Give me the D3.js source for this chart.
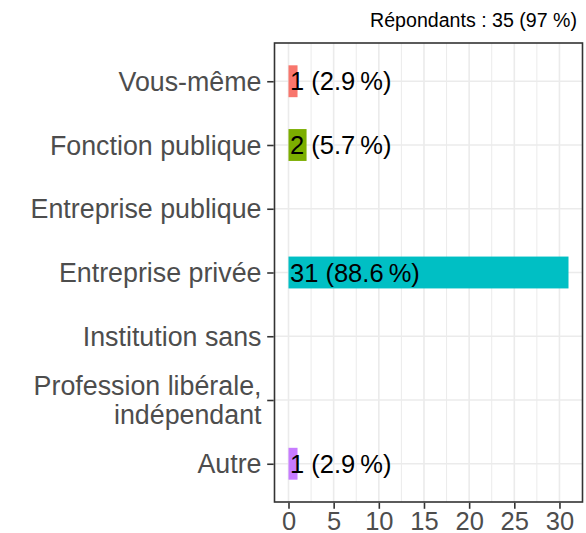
<!DOCTYPE html>
<html>
<head>
<meta charset="utf-8">
<script src="https://cdn.jsdelivr.net/npm/d3@7"></script>
<style>
  body { margin: 0; background: #fff; }
  svg { display: block; font-family: "Liberation Sans", Arial, sans-serif; }
</style>
</head>
<body>
<svg id="chart" width="586" height="533"></svg>
<script>
// data
var categories = ["Vous-même", "Fonction publique", "Entreprise publique", "Entreprise privée",
                  "Institution sans", "Profession libérale,\nindépendant", "Autre"];
var counts = [1, 2, 0, 31, 0, 0, 1];
var percents = ["2.9", "5.7", "0", "88.6", "0", "0", "2.9"];
var barColors = ["#F8766D", "#7CAE00", null, "#00BFC4", null, null, "#C77CFF"];
var xTicks = [0, 5, 10, 15, 20, 25, 30];
var xMinor = [2.5, 7.5, 12.5, 17.5, 22.5, 27.5];
var subtitle = "Répondants : 35 (97 %)";

var svg = d3.select("#chart");
var panel = {left: 274.5, right: 582.5, top: 43, bottom: 502};

// ggplot-like expansion: 5% continuous, 0.6 discrete
var xmax = d3.max(counts);
var x = d3.scaleLinear()
    .domain([-0.05 * xmax, xmax * 1.05])
    .range([panel.left, panel.right]);

var y = d3.scalePoint()
    .domain(d3.range(categories.length))
    .range([panel.top, panel.bottom])
    .padding(0.6);
var step = y.step();

var g = svg.append("g");

// grid
g.selectAll("line.minor").data(xMinor)
  .enter().append("line")
    .attr("x1", x).attr("x2", x)
    .attr("y1", panel.top).attr("y2", panel.bottom)
    .attr("stroke", "#EBEBEB").attr("stroke-width", 1);

g.selectAll("line.majx").data(xTicks)
  .enter().append("line")
    .attr("x1", x).attr("x2", x)
    .attr("y1", panel.top).attr("y2", panel.bottom)
    .attr("stroke", "#EBEBEB").attr("stroke-width", 1.6);

g.selectAll("line.majy").data(d3.range(categories.length))
  .enter().append("line")
    .attr("x1", panel.left).attr("x2", panel.right)
    .attr("y1", y).attr("y2", y)
    .attr("stroke", "#EBEBEB").attr("stroke-width", 1.6);

// bars
var rows = categories.map(function(c, i){
  return {i: i, n: counts[i], pct: percents[i], color: barColors[i]};
});
var shown = rows.filter(function(d){ return d.n > 0; });

g.selectAll("rect.bar").data(shown)
  .enter().append("rect")
    .attr("x", x(0))
    .attr("y", function(d){ return y(d.i) - step * 0.25; })
    .attr("width", function(d){ return x(d.n) - x(0); })
    .attr("height", step * 0.5)
    .attr("fill", function(d){ return d.color; });

g.selectAll("text.lab").data(shown)
  .enter().append("text")
    .attr("x", x(0) + 1.5)
    .attr("y", function(d){ return y(d.i); })
    .attr("dy", "0.36em")
    .attr("font-size", 25.5)
    .attr("fill", "#000")
    .text(function(d){ return d.n + " (" + d.pct + "\u2009%)"; });

// panel border
g.append("rect")
    .attr("x", panel.left).attr("y", panel.top)
    .attr("width", panel.right - panel.left)
    .attr("height", panel.bottom - panel.top)
    .attr("fill", "none").attr("stroke", "#333333").attr("stroke-width", 1.6);

// x axis
var xAxis = svg.append("g")
    .attr("transform", "translate(0," + (panel.bottom + 0.8) + ")")
    .call(d3.axisBottom(x).tickValues(xTicks).tickSize(6).tickPadding(3).tickFormat(d3.format("d")));
xAxis.select(".domain").remove();
xAxis.selectAll(".tick line").attr("stroke", "#333333").attr("stroke-width", 1.6);
xAxis.selectAll(".tick text").attr("font-size", 25.5).attr("fill", "#4D4D4D")
    .attr("font-family", "Liberation Sans, Arial, sans-serif");

// y axis
var yAxis = svg.append("g")
    .attr("transform", "translate(" + (panel.left - 0.8) + ",0)")
    .call(d3.axisLeft(y).tickSize(6.5).tickPadding(5).tickFormat(""));
yAxis.select(".domain").remove();
yAxis.selectAll(".tick line").attr("stroke", "#333333").attr("stroke-width", 1.6);

var ylab = svg.append("g").selectAll("text").data(categories)
  .enter().append("text")
    .attr("x", panel.left - 13)
    .attr("y", function(d, i){ return y(i); })
    .attr("text-anchor", "end")
    .attr("font-size", 26.8)
    .attr("fill", "#4D4D4D");
ylab.each(function(d){
  var lines = d.split("\n");
  var sel = d3.select(this);
  lines.forEach(function(t, k){
    sel.append("tspan")
      .attr("x", panel.left - 13)
      .attr("dy", k === 0 ? (0.36 - (lines.length - 1) * 0.53) + "em" : "1.06em")
      .text(t);
  });
});

// subtitle
svg.append("text")
    .attr("x", 577)
    .attr("y", 27)
    .attr("text-anchor", "end")
    .attr("font-size", 19.6)
    .attr("fill", "#000")
    .text(subtitle);
</script>
</body>
</html>
